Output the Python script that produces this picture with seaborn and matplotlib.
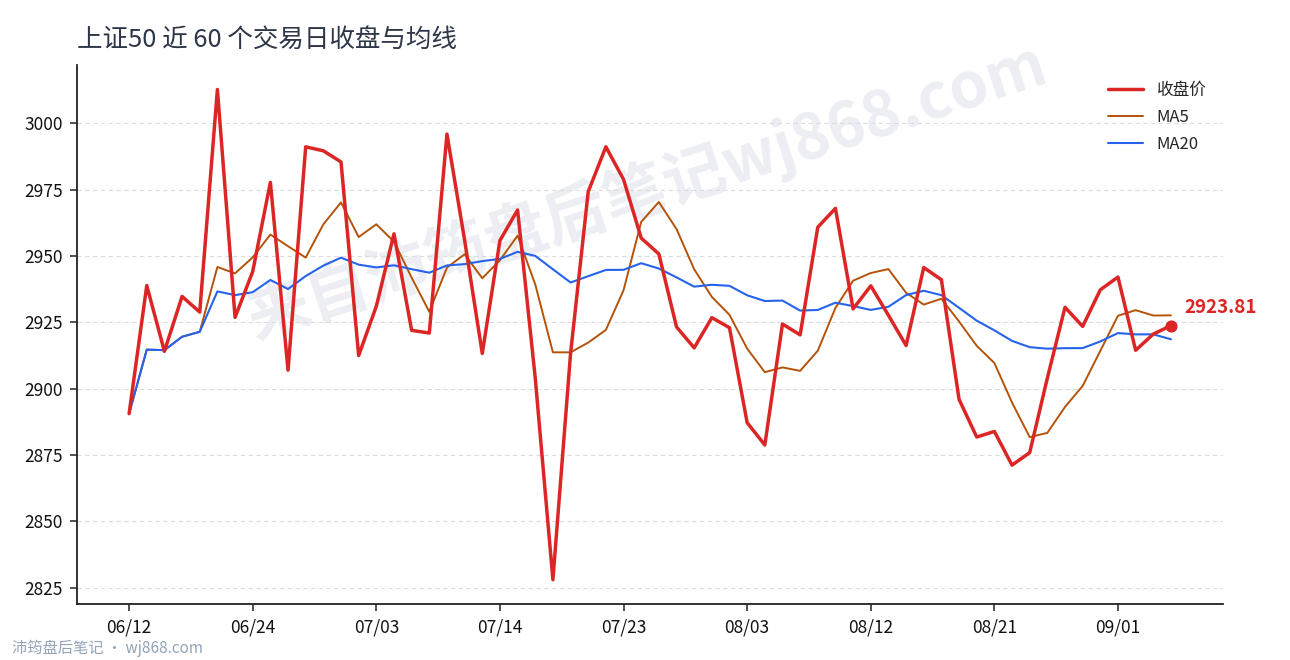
import numpy as np
import pandas as pd
import matplotlib
matplotlib.use("Agg")
import matplotlib.pyplot as plt
from matplotlib import ticker
import seaborn as sns

# Beschriftung der x-Achse (jeder 7. Handelstag)
tick_labels = ["06/12", "06/24", "07/03", "07/14", "07/23", "08/03", "08/12", "08/21", "09/01"]

# Schlusskurse der letzten 60 Handelstage
close = [
    2890.6, 2938.9, 2914.1, 2934.8, 2928.9, 3012.8, 2926.9, 2944.2, 2977.8, 2907.0,
    2991.2, 2989.7, 2985.5, 2912.5, 2931.1, 2958.4, 2922.0, 2921.0, 2996.0, 2956.0,
    2913.3, 2955.9, 2967.4, 2904.0, 2828.0, 2913.3, 2974.3, 2991.2, 2978.9, 2956.8,
    2950.8, 2923.3, 2915.4, 2926.8, 2923.0, 2887.2, 2878.8, 2924.4, 2920.3, 2960.9,
    2968.0, 2930.1, 2938.8, 2927.7, 2916.3, 2945.7, 2941.1, 2896.0, 2881.8, 2883.9,
    2871.2, 2875.9, 2904.0, 2930.7, 2923.5, 2937.3, 2942.1, 2914.5, 2920.6, 2923.81,
]

df = pd.DataFrame({"tag": np.arange(len(close)), "close": close})
df["ma5"] = df["close"].rolling(5, min_periods=1).mean()
df["ma20"] = df["close"].rolling(20, min_periods=1).mean()

sns.set_theme(style="white")
plt.rcParams["font.family"] = ["Noto Sans CJK SC", "DejaVu Sans"]
plt.rcParams["axes.unicode_minus"] = False

fig = plt.figure(figsize=(12.9, 6.6), dpi=100)
ax = fig.add_axes([0.0597, 0.0845, 0.8884, 0.817])

sns.lineplot(data=df, x="tag", y="close", ax=ax, color="#dc2626", linewidth=2.5, label="收盘价", zorder=4)
sns.lineplot(data=df, x="tag", y="ma5", ax=ax, color="#b45309", linewidth=1.4, label="MA5", zorder=2)
sns.lineplot(data=df, x="tag", y="ma20", ax=ax, color="#2563eb", linewidth=1.5, label="MA20", zorder=3)

# letzter Kurs hervorheben
letzter = df.iloc[-1]
ax.scatter([letzter["tag"]], [letzter["close"]], s=60, color="#dc2626", zorder=5)
ax.annotate(f"{letzter['close']:.2f}", (letzter["tag"], letzter["close"]),
            xytext=(10, 13), textcoords="offset points", color="#dc2626",
            fontsize=13.5, fontweight="bold", ha="left", va="center")

# Wasserzeichen
ax.text(0.497, 0.765, "来自沛筠盘后笔记wj868.com", transform=ax.transAxes, rotation=18,
        fontsize=45, fontweight="bold", color="#eceef3", ha="center", va="center", zorder=0)

ax.set_xticks(range(0, len(close), 7))
ax.set_xticklabels(tick_labels)
ax.yaxis.set_major_locator(ticker.MultipleLocator(25))
ax.grid(axis="y", linestyle=(0, (4, 3)), color="#dcdcdc", linewidth=0.8)
ax.set_xlabel("")
ax.set_ylabel("")
ax.tick_params(axis="both", labelsize=12.5, length=5, width=1.1, color="#222222", direction="out",
               bottom=True, left=True, labelcolor="#111111", pad=5)

sns.despine(ax=ax)
for s in ["left", "bottom"]:
    ax.spines[s].set_color("#222222")
    ax.spines[s].set_linewidth(1.3)

ax.set_title("上证50 近 60 个交易日收盘与均线", loc="left", fontsize=18.4, color="#2d3748", pad=13)

leg = ax.legend(loc="upper right", frameon=False, fontsize=12, labelspacing=0.6,
                handlelength=2.1, borderaxespad=0.6)

fig.text(0.009, 0.018, "沛筠盘后笔记 · wj868.com", fontsize=11, color="#94a3b8", ha="left", va="center")

fig.savefig("out.png", dpi=100)
